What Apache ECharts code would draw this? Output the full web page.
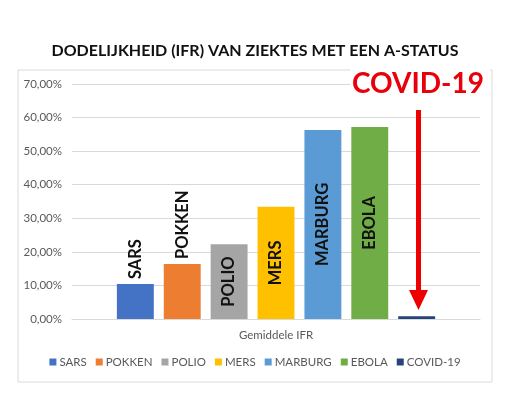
<!DOCTYPE html>
<html><head><meta charset="utf-8">
<script src="https://cdn.jsdelivr.net/npm/echarts@6/dist/echarts.min.js"></script>
<style>html,body{margin:0;padding:0;background:#fff}#c{width:510px;height:395px}</style>
</head><body><div id="c"></div>
<script>
const categories = ['Gemiddele IFR'];
const seriesNames = ['SARS','POKKEN','POLIO','MERS','MARBURG','EBOLA','COVID-19'];
const seriesValues = [10.4, 16.4, 22.3, 33.4, 56.3, 57.2, 0.8];
const seriesColors = ['#4472c4','#ed7d31','#a5a5a5','#ffc000','#5b9bd5','#70ad47','#264478'];
const labelPositions = ['top','top','inside','inside','inside','inside','none'];
const yTicks = [0,10,20,30,40,50,60,70];

const chart = echarts.init(document.getElementById('c'), null, {renderer:'canvas'});
const FONT = 'Lato';
const series = seriesNames.map((n,i)=>({
  name:n, type:'bar', data:[seriesValues[i]],
  itemStyle:{color:seriesColors[i]},
  barGap:'27%', barCategoryGap:'22%',
  label: labelPositions[i]==='none' ? {show:false} : {
    show:true, formatter:n, rotate:90,
    position:labelPositions[i],
    align: labelPositions[i]==='top' ? 'left' : 'center',
    verticalAlign:'middle',
    distance:5,
    fontFamily:FONT, fontWeight:'bold', fontSize:16.5, color:'#111'
  }
}));
chart.setOption({
  animation:false,
  textStyle:{fontFamily:FONT},
  title:{text:'DODELIJKHEID (IFR) VAN ZIEKTES MET EEN A-STATUS', left:'center', top:38,
    textStyle:{fontFamily:FONT, fontWeight:'bold', fontSize:16, color:'#111'}},
  grid:{left:72, right:30, top:84, bottom:76},
  legend:{data:seriesNames, bottom:22, left:'center', icon:'rect', itemWidth:7, itemHeight:7, itemGap:9,
    textStyle:{fontFamily:FONT, fontSize:11.5, color:'#595959', padding:[0,0,0,-2]}},
  xAxis:{type:'category', data:categories,
    axisLine:{lineStyle:{color:'#d9d9d9'}}, axisTick:{show:false},
    axisLabel:{color:'#595959', fontSize:11.5, fontFamily:FONT, margin:10}},
  yAxis:{type:'value', min:0, max:70, interval:10,
    axisLine:{show:false}, axisTick:{show:false},
    splitLine:{lineStyle:{color:'#d9d9d9'}},
    axisLabel:{color:'#595959', fontSize:11.5, fontFamily:FONT, margin:10,
      formatter:v=>v.toFixed(2).replace('.',',')+'%'}},
  series:series,
  graphic:[
    {type:'rect', shape:{x:18, y:70, width:474, height:312}, style:{fill:'none', stroke:'#d9d9d9', lineWidth:1}, z:-1},
    {type:'rect', shape:{x:350, y:64, width:140, height:34}, style:{fill:'#fff'}, z:10},
    {type:'text', left:352, top:70, style:{text:'COVID-19', font:'bold 28px Lato', fill:'#e8000b'}, z:11},
    {type:'line', shape:{x1:418.5, y1:110, x2:418.5, y2:292}, style:{stroke:'#ee0000', lineWidth:5}, z:11},
    {type:'polygon', shape:{points:[[409,290],[428,290],[418.5,310]]}, style:{fill:'#ee0000'}, z:11}
  ]
});
</script></body></html>
